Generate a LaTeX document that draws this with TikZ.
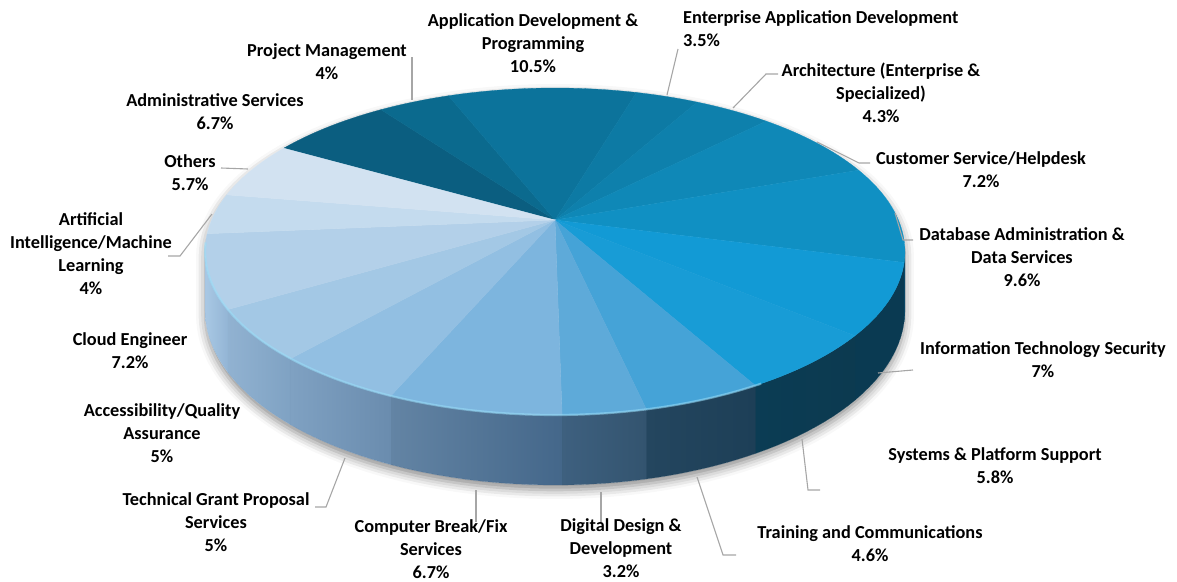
\documentclass[tikz,border=0pt]{standalone}
\usepackage{fontspec}
\setmainfont{Carlito}
\usetikzlibrary{shadows.blur}

% top colours of the slices
\definecolor{tAdm}{HTML}{0B5E80}
\definecolor{tPrj}{HTML}{0B6A8E}
\definecolor{tApp}{HTML}{0C739B}
\definecolor{tEnt}{HTML}{0D7AA4}
\definecolor{tArc}{HTML}{0E80AC}
\definecolor{tCus}{HTML}{0F88B7}
\definecolor{tDat}{HTML}{1090C3}
\definecolor{tSec}{HTML}{129AD5}
\definecolor{tSys}{HTML}{189CD6}
\definecolor{tTrn}{HTML}{45A3D7}
\definecolor{tDig}{HTML}{5EAAD9}
\definecolor{tCmp}{HTML}{7DB5DE}
\definecolor{tGrt}{HTML}{92BFE2}
\definecolor{tAcc}{HTML}{A3C8E5}
\definecolor{tCld}{HTML}{B3D0E9}
\definecolor{tAI}{HTML}{C4DBEE}
\definecolor{tOth}{HTML}{D2E2F1}

\begin{document}
\begin{tikzpicture}[x=1pt,y=-1pt,
   declare function={px(\t)=555+343.4*sin(\t)/(1+0.1927*cos(\t));
                     py(\t)=(220-115.05*cos(\t))/(1+0.1927*cos(\t));
                     pd(\t)=56.5/(1+0.1927*cos(\t));},
   lbl/.style={font=\bfseries\fontsize{18.3}{23}\selectfont, align=center, inner sep=0pt},
   leader/.style={draw=black!35, line width=1.1pt}]
   \useasboundingbox (0,0) rectangle (1177,581);

   % shadow under the pie
   \fill[white, blur shadow={shadow xshift=0pt, shadow yshift=-5pt,
         shadow blur radius=9pt, shadow opacity=45}]
      plot[domain=-101.1:101.1, samples=80] ({px(\x)},{py(\x)})
      -- plot[domain=101.1:258.9, samples=80] ({px(\x)},{py(\x)+pd(\x)}) -- cycle;

   % side of the pie
   \foreach \a/\b/\l/\r in {101.1/104.88/0A4A68/0A4A68, 104.88/130.08/0A3A52/0A3A52,
         130.08/150.96/0B3C54/0C3A50, 150.96/167.52/24465F/1D3F57,
         167.52/179.04/3E607F/33546F, 179.04/203.16/6384A4/44678A,
         203.16/221.16/7FA1C2/6A8CAE, 221.16/239.16/91B2D1/7FA2C3,
         239.16/258.9/A9C8E4/93B5D5} {
      \definecolor{sl}{HTML}{\l}\definecolor{sr}{HTML}{\r}
      \shade[left color=sl, right color=sr, draw=sr, line width=0.2pt]
         plot[domain=\a:\b, samples=12] ({px(\x)},{py(\x)})
         -- plot[domain=\b:\a, samples=12] ({px(\x)},{py(\x)+pd(\x)}) -- cycle;
   }

   % top of the pie
   \foreach \a/\b/\c in {-60/-35.88/tAdm, -35.88/-21.48/tPrj, -21.48/16.32/tApp,
         16.32/28.92/tEnt, 28.92/44.4/tArc, 44.4/70.32/tCus, 70.32/104.88/tDat,
         104.88/130.08/tSec, 130.08/150.96/tSys, 150.96/167.52/tTrn,
         167.52/179.04/tDig, 179.04/203.16/tCmp, 203.16/221.16/tGrt,
         221.16/239.16/tAcc, 239.16/265.08/tCld, 265.08/279.48/tAI, 279.48/300/tOth} {
      \filldraw[fill=\c, draw=\c, line width=0.3pt] (555,220)
         -- plot[domain=\a:\b, samples=20] ({px(\x)},{py(\x)}) -- cycle;
   }
   % light rim on the front edge
   \draw[white!60!cyan, opacity=0.55, line width=2.2pt]
      plot[domain=150:262, samples=60] ({px(\x)},{py(\x)});

   % labels
   \node[lbl] (app) at (533,43) {Application Development \&\\Programming\\10.5\%};
   \node[lbl, align=left, anchor=west] (ent) at (683,29) {Enterprise Application Development\\3.5\%};
   \node[lbl] (arc) at (881,93) {Architecture (Enterprise \&\\Specialized)\\4.3\%};
   \node[lbl] (cus) at (981,170) {Customer Service/Helpdesk\\7.2\%};
   \node[lbl] (dat) at (1022,257) {Database Administration \&\\Data Services\\9.6\%};
   \node[lbl] (sec) at (1043,360) {Information Technology Security\\7\%};
   \node[lbl] (sys) at (995,466) {Systems \& Platform Support\\5.8\%};
   \node[lbl] (trn) at (870,544) {Training and Communications\\4.6\%};
   \node[lbl] (dig) at (621,548) {Digital Design \&\\Development\\3.2\%};
   \node[lbl] (cmp) at (431,549) {Computer Break/Fix\\Services\\6.7\%};
   \node[lbl] (grt) at (216,522) {Technical Grant Proposal\\Services\\5\%};
   \node[lbl] (acc) at (162,433) {Accessibility/Quality\\Assurance\\5\%};
   \node[lbl] (cld) at (130,351) {Cloud Engineer\\7.2\%};
   \node[lbl] (ai) at (91,254) {Artificial\\Intelligence/Machine\\Learning\\4\%};
   \node[lbl] (oth) at (190,173) {Others\\5.7\%};
   \node[lbl] (adm) at (215,112) {Administrative Services\\6.7\%};
   \node[lbl] (prj) at (327,62) {Project Management\\4\%};

   % leader lines
   \coordinate (prjA) at (412,57);  \coordinate (prjB) at (412,100);
   \coordinate (entA) at (678,49);  \coordinate (entB) at (667,95);
   \coordinate (arcA) at (778,74);  \coordinate (arcB) at (733,108);
   \coordinate (cusA) at (870,163); \coordinate (cusB) at (817,142);
   \coordinate (datA) at (913,240); \coordinate (datB) at (895,213);
   \coordinate (secA) at (913,370); \coordinate (secB) at (878,373);
   \coordinate (sysA) at (820,490); \coordinate (sysB) at (802,439);
   \coordinate (trnA) at (736,555); \coordinate (trnB) at (697,477);
   \coordinate (digA) at (601,522); \coordinate (digB) at (601,492);
   \coordinate (cmpA) at (476,522); \coordinate (cmpB) at (476,490);
   \coordinate (grtA) at (315,507); \coordinate (grtB) at (345,458);
   \coordinate (othA) at (221,168); \coordinate (othB) at (248,169);
   \coordinate (aiA) at (168,256);  \coordinate (aiB) at (212,214);
   \draw[leader] (prjA) -- (prjB);
   \draw[leader] (entA) -- (entB);
   \draw[leader] (arcA) -- ++(-12,0) -- (arcB);
   \draw[leader] (cusA) -- ++(-11,0) -- (cusB);
   \draw[leader] (datA) -- ++(-10,0) -- (datB);
   \draw[leader] (secA) -- (secB);
   \draw[leader] (sysA) -- ++(-12,0) -- (sysB);
   \draw[leader] (trnA) -- ++(-13,0) -- (trnB);
   \draw[leader] (digA) -- (digB);
   \draw[leader] (cmpA) -- (cmpB);
   \draw[leader] (grtA) -- ++(11,0) -- (grtB);
   \draw[leader] (othA) -- (othB);
   \draw[leader] (aiA) -- ++(12,0) -- (aiB);
\end{tikzpicture}
\end{document}
